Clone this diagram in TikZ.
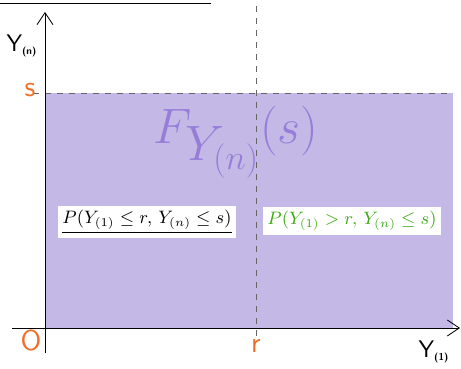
\documentclass[tikz,border=0pt]{standalone}
\usepackage{fontspec}
\setmainfont{DejaVu Sans}
\usepackage{tikz}
\usetikzlibrary{arrows.meta,positioning,calc}
\definecolor{regfill}{RGB}{196,184,230}
\definecolor{regtext}{RGB}{150,126,216}
\definecolor{tickor}{RGB}{240,110,40}
\definecolor{probgr}{RGB}{60,170,20}
\tikzset{
  axis/.style={thin,-{Straight Barb[length=6pt,width=8pt]}},
  guide/.style={dashed,gray!80!black,thin},
  tick/.style={text=tickor,font=\Large\sffamily},
  axlab/.style={font=\large\sffamily},
  pbox/.style={fill=white,inner sep=2pt,font=\small}
}
\begin{document}
\begin{tikzpicture}[x=0.5pt,y=-0.5pt]
\useasboundingbox (0,0) rectangle (461,369);
\coordinate (O) at (45,328);
\coordinate (S) at (45,93);
\coordinate (R) at (256,328);
% shaded region
\fill[regfill] (O) rectangle (453,93);
\draw[guide] (33,93) -- (453,93);
\draw[guide] (256,6) -- (256,340);
\draw[guide] (O) -- (453,328);
\draw (0,3) -- (211,3);
% axes
\draw[axis] (12,328) -- (460,328);
\draw[axis] (45,353) -- (45,12);
\node[tick] (s) at (30,90) {s};
\node[tick] (o) at (31,341) {O};
\node[tick] (r) at (256,346) {r};
\node[axlab] (yn) at (22,46) {Y$_{\textbf{\tiny(n)}}$};
\node[axlab] (y1) at (434,352) {Y$_{\textbf{\tiny(1)}}$};
\node[text=regtext,font=\fontsize{38}{42}\selectfont] (F) at (236,142) {$F_{Y_{(n)}}(s)$};
\node[pbox] (pl) at (147,222) {\underline{$P(Y_{(1)}\le r,\, Y_{(n)}\le s)$}};
\node[pbox,text=probgr] (pr) at (352,221) {$P(Y_{(1)}> r,\, Y_{(n)}\le s)$};
\end{tikzpicture}
\end{document}
